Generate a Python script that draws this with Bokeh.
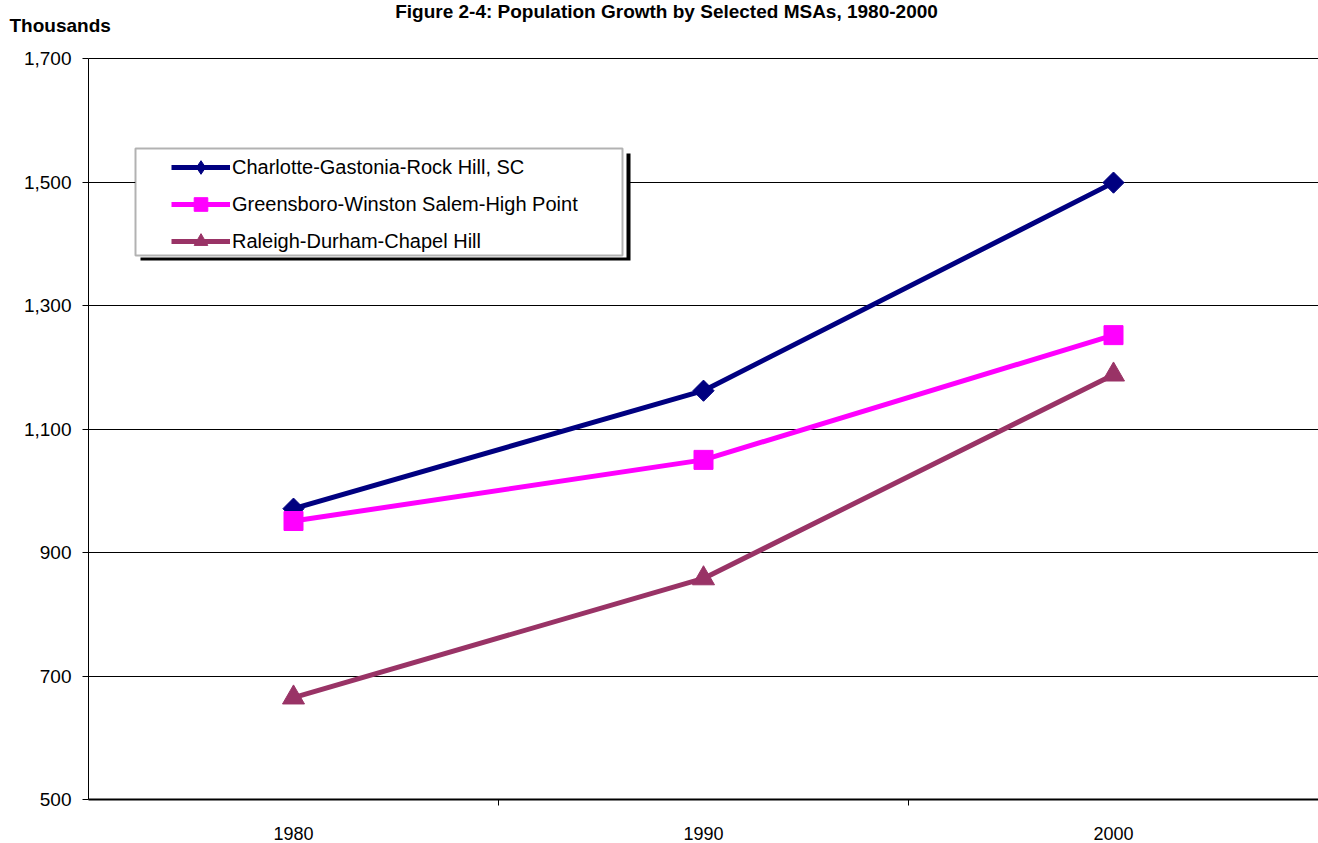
from bokeh.plotting import figure
from bokeh.models import (Range1d, FixedTicker, NumeralTickFormatter, Label,
                          BoxAnnotation, Legend, LegendItem, ColumnDataSource)
from bokeh.embed import file_html
from bokeh.resources import INLINE
import math

# ---- data (population, thousands) ----
years = ["1980", "1990", "2000"]
charlotte = [971, 1162, 1499]
greensboro = [951, 1050, 1252]
raleigh = [665, 858, 1188]

series_names = [
    "Charlotte-Gastonia-Rock Hill, SC",
    "Greensboro-Winston Salem-High Point",
    "Raleigh-Durham-Chapel Hill",
]
y_ticks = [500, 700, 900, 1100, 1300, 1500, 1700]

FONT = "Liberation Sans"

# ---- layout: the frame fills the canvas, axes sit at fixed data positions ----
W, H = 1318, 843
AX_LEFT, AX_TOP, AX_BOTTOM = 88, 58, 799
XA0, XA1 = -0.5, len(years) - 0.5          # category band edges
YA0, YA1 = y_ticks[0], y_ticks[-1]
X_PER_PX = (XA1 - XA0) / (W - AX_LEFT)
Y_PER_PX = (YA1 - YA0) / (AX_BOTTOM - AX_TOP)
X0 = XA0 - AX_LEFT * X_PER_PX
Y1 = YA1 + AX_TOP * Y_PER_PX
Y0 = YA0 - (H - AX_BOTTOM) * Y_PER_PX


def px_x(px):
    """Canvas pixel column -> data x."""
    return X0 + px * X_PER_PX


def px_y(py):
    """Canvas pixel row -> data y."""
    return Y1 - py * Y_PER_PX


p = figure(
    frame_width=W, frame_height=H,
    x_range=Range1d(X0, XA1), y_range=Range1d(Y0, Y1),
    output_backend="svg", toolbar_location=None,
    min_border=0,
    background_fill_color="white", border_fill_color="white",
)
p.outline_line_color = None

# ---- axes ----
xpos = list(range(len(years)))
p.xaxis.fixed_location = YA0
p.xaxis.bounds = (XA0, XA1)
p.xaxis.ticker = FixedTicker(ticks=xpos, minor_ticks=[i + 0.5 for i in xpos[:-1]])
p.xaxis.major_label_overrides = {i: y for i, y in zip(xpos, years)}
p.xaxis.major_tick_out = 0
p.xaxis.major_tick_in = 0
p.xaxis.minor_tick_out = 6
p.xaxis.minor_tick_in = 0
p.xaxis.minor_tick_line_color = "black"
p.xaxis.axis_line_color = "black"
p.xaxis.axis_line_width = 2
p.xaxis.major_label_standoff = 21
p.xaxis.major_label_text_font = FONT
p.xaxis.major_label_text_font_size = "18px"
p.xaxis.major_label_text_color = "black"

p.yaxis.fixed_location = XA0
p.yaxis.bounds = (YA0, YA1)
p.yaxis.ticker = FixedTicker(ticks=y_ticks)
p.yaxis.formatter = NumeralTickFormatter(format="0,0")
p.yaxis.major_tick_out = 6
p.yaxis.major_tick_in = 0
p.yaxis.minor_tick_line_color = None
p.yaxis.axis_line_color = "black"
p.yaxis.major_tick_line_color = "black"
p.yaxis.major_label_standoff = 11
p.yaxis.major_label_text_font = FONT
p.yaxis.major_label_text_font_size = "19px"
p.yaxis.major_label_text_color = "black"

# ---- horizontal grid lines, only between the two ends of the x axis ----
p.xgrid.grid_line_color = None
grid_y = y_ticks[1:]
ygrid = p.ygrid[0]
if "cross_bounds" in ygrid.properties():
    ygrid.ticker = FixedTicker(ticks=grid_y)
    ygrid.cross_bounds = (XA0, XA1)
    ygrid.grid_line_color = "black"
    ygrid.grid_line_width = 1
else:
    ygrid.grid_line_color = None
    p.segment(x0=[XA0] * len(grid_y), x1=[XA1] * len(grid_y), y0=grid_y, y1=grid_y,
              line_color="black", line_width=1, level="underlay")

# ---- series ----
styles = [
    dict(color="#000080", marker="square", size=15, angle=math.pi / 4),  # diamond
    dict(color="#FF00FF", marker="square", size=19, angle=0.0),
    dict(color="#993366", marker="triangle", size=22, angle=0.0),
]
items = []
for name, vals, st in zip(series_names, [charlotte, greensboro, raleigh], styles):
    src = ColumnDataSource(dict(x=xpos, y=vals))
    ln = p.line("x", "y", source=src, line_color=st["color"], line_width=5)
    key_marks = []
    if st["angle"]:
        # narrow diamond under the turned square: it is the legend key
        key_marks.append(p.scatter("x", "y", source=src, marker="diamond", size=15,
                                   fill_color=st["color"], line_color=st["color"]))
    mk = p.scatter("x", "y", source=src, marker=st["marker"], size=st["size"],
                   angle=st["angle"], fill_color=st["color"],
                   line_color=st["color"], line_width=1)
    items.append(LegendItem(label=name, renderers=[ln] + (key_marks or [mk])))

# ---- legend box with drop shadow ----
bx0, bx1, by0, by1 = 135, 622, 148, 255
shadow = BoxAnnotation(left=px_x(bx0 + 5), right=px_x(bx1 + 8),
                       top=px_y(by0 + 5), bottom=px_y(by1 + 5),
                       fill_color="black", fill_alpha=1, line_color=None)
gap = BoxAnnotation(left=px_x(bx0), right=px_x(bx1 + 4),
                    top=px_y(by0), bottom=px_y(by1 + 2),
                    fill_color="white", fill_alpha=1, line_color=None)
box = BoxAnnotation(left=px_x(bx0), right=px_x(bx1),
                    top=px_y(by0), bottom=px_y(by1),
                    fill_color="white", fill_alpha=1,
                    line_color="black", line_width=2)
p.add_layout(shadow)
p.add_layout(gap)
p.add_layout(box)

legend = Legend(
    items=items,
    location=(171, H - 258),
    padding=0, margin=0, spacing=3,
    glyph_width=59, glyph_height=34, label_height=34,
    label_standoff=2,
    label_text_font=FONT, label_text_font_size="20px",
    label_text_color="black",
    border_line_alpha=0, background_fill_alpha=0,
)
p.add_layout(legend)

# ---- title and unit label ----
p.add_layout(Label(
    x=px_x(666), y=px_y(0),
    text="Figure 2-4: Population Growth by Selected MSAs, 1980-2000",
    text_font=FONT, text_font_size="19px", text_font_style="bold",
    text_align="center", text_baseline="top", text_color="black"))
p.add_layout(Label(
    x=px_x(9), y=px_y(25), text="Thousands",
    text_font=FONT, text_font_size="19px", text_font_style="bold",
    text_align="left", text_baseline="alphabetic", text_color="black"))

open("out.html", "w").write(file_html(p, INLINE))
